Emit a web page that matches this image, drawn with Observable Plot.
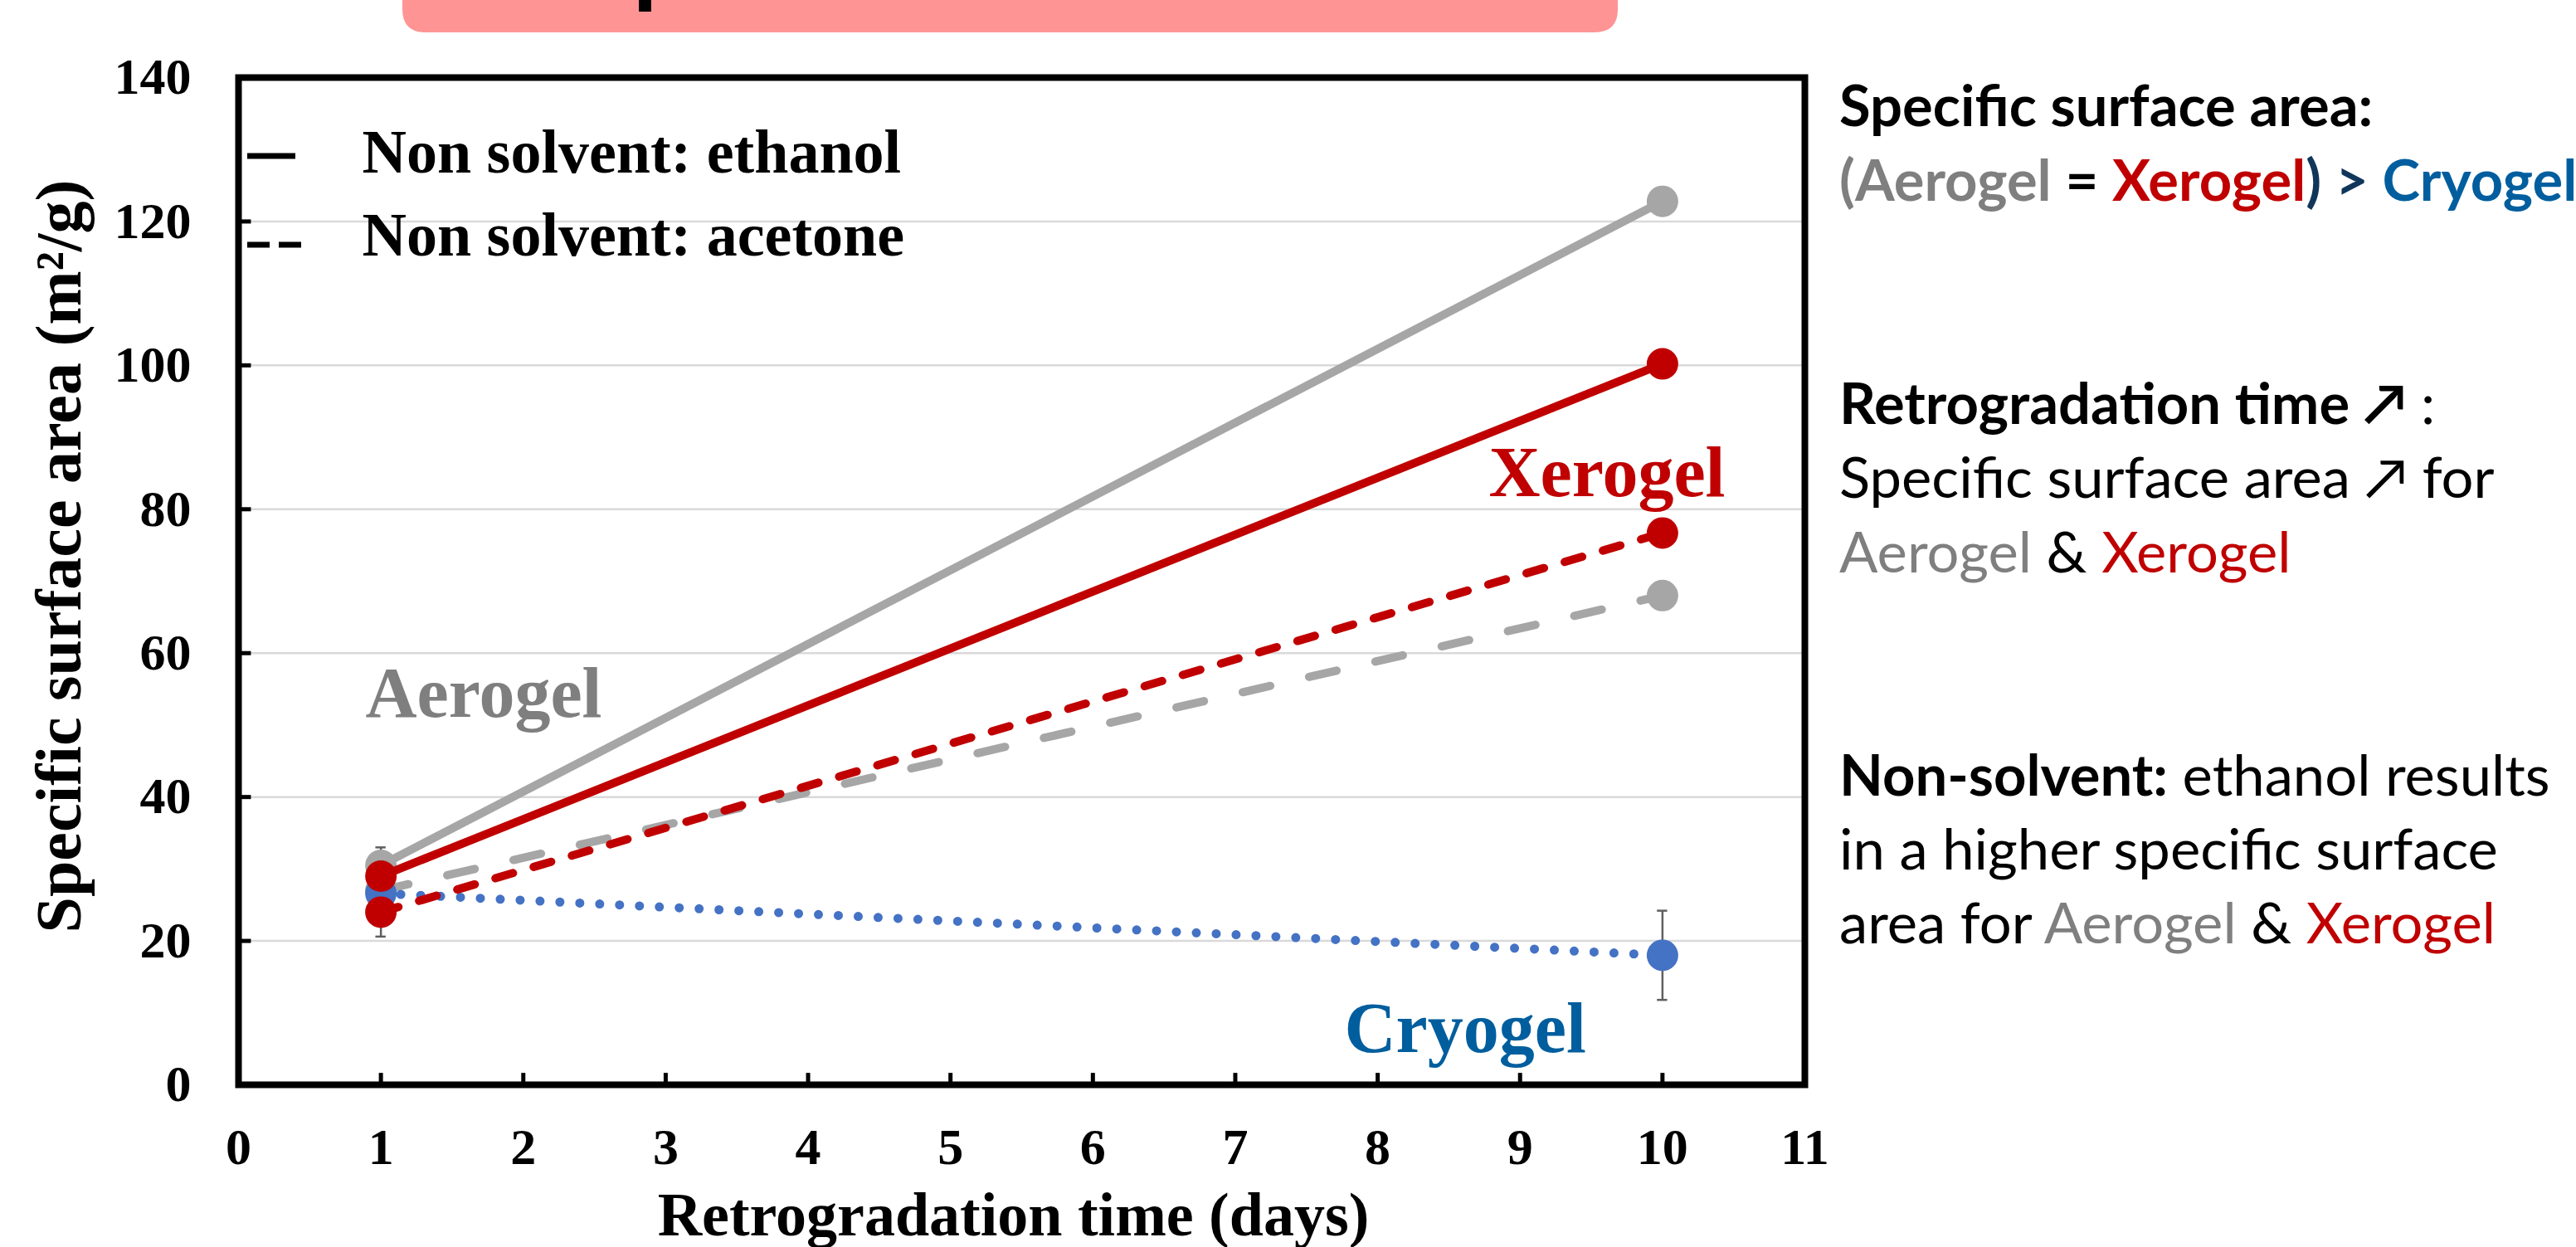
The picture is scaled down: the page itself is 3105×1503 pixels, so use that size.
<!DOCTYPE html>
<html><head><meta charset="utf-8">
<script src="https://cdn.jsdelivr.net/npm/d3@7"></script>
<script src="https://cdn.jsdelivr.net/npm/@observablehq/plot@0.6"></script>
<style>
html,body{margin:0;padding:0;background:#fff;}
#chart{position:relative;width:3105px;height:1503px;overflow:hidden;}
</style></head><body><div id="chart"></div>
<script>
// ---- data ----
const days = [1, 10];
const aerogelEthanol = [30.5, 122.8];
const aerogelAcetone = [27.0, 68.0];
const cryogelValues  = [26.6, 18.0];
const xerogelEthanol = [29.0, 100.2];
const xerogelAcetone = [24.0, 76.7];
const aerogelEthanolErr = [2.5, 1.0];
const aerogelAcetoneErr = [1.5, 1.0];
const cryogelErr        = [1.5, 6.2];
const xerogelEthanolErr = [1.5, 1.0];
const xerogelAcetoneErr = [3.4, 1.0];
const xTicks = [0, 1, 2, 3, 4, 5, 6, 7, 8, 9, 10, 11];
const yTicks = [0, 20, 40, 60, 80, 100, 120, 140];
const legendLabels = ["Non solvent: ethanol", "Non solvent: acetone"];
const gelLabels = ["Aerogel", "Xerogel", "Cryogel"];
const xTitle = "Retrogradation time (days)";
const yTitle = "Specific surface area (m\u00B2/g)";
const headline = "Specific surface area";

// ---- styles ----
const GRAY = "#A6A6A6", RED = "#C00000", BLUE = "#4472C4";
const specs = [
  {name: "Aerogel ethanol", values: aerogelEthanol, err: aerogelEthanolErr, color: GRAY, dash: null, w: 10},
  {name: "Aerogel acetone", values: aerogelAcetone, err: aerogelAcetoneErr, color: GRAY, dash: "34 48", w: 10},
  {name: "Cryogel", values: cryogelValues, err: cryogelErr, color: BLUE, dash: "0 24", w: 11},
  {name: "Xerogel ethanol", values: xerogelEthanol, err: xerogelEthanolErr, color: RED, dash: null, w: 10},
  {name: "Xerogel acetone", values: xerogelAcetone, err: xerogelAcetoneErr, color: RED, dash: "22 26", w: 10}
];
const rows = specs.flatMap(s => days.map((d, i) => ({series: s.name, day: d, value: s.values[i], err: s.err[i]})));
const caps = rows.flatMap(r => [{day: r.day, y: r.value - r.err}, {day: r.day, y: r.value + r.err}]);

const serif = "'Liberation Serif', 'Times New Roman', serif";
const marks = [
  Plot.ruleY(yTicks.filter(v => v > 0 && v < 140), {stroke: "#D9D9D9", strokeWidth: 2.5}),
  Plot.ruleX(rows, {x: "day", y1: d => d.value - d.err, y2: d => d.value + d.err, stroke: "#5F5F5F", strokeWidth: 2.5}),
  Plot.ruleY(caps, {y: "y", x1: d => d.day - 0.036, x2: d => d.day + 0.036, stroke: "#5F5F5F", strokeWidth: 2.5})
];
for (const s of specs) {
  const data = rows.filter(r => r.series === s.name);
  marks.push(Plot.line(data, {x: "day", y: "value", stroke: s.color, strokeWidth: s.w,
    strokeDasharray: s.dash || undefined, strokeLinecap: "round"}));
  marks.push(Plot.dot(data, {x: "day", y: "value", r: 19, fill: s.color, stroke: "none"}));
}
marks.push(
  Plot.ruleY(yTicks, {x1: 0, x2: 0.09, stroke: "black", strokeWidth: 5}),
  Plot.ruleX(xTicks, {y1: 0, y2: 1.6, stroke: "black", strokeWidth: 5}),
  Plot.text(yTicks, {x: 0, y: d => d, text: d => String(d), textAnchor: "end", lineAnchor: "middle", dx: -57, fontSize: 62, fontWeight: "bold", fill: "black"}),
  Plot.text(xTicks, {x: d => d, y: 0, text: d => String(d), textAnchor: "middle", lineAnchor: "bottom", dy: 95, fontSize: 62, fontWeight: "bold", fill: "black"}),
  Plot.text([xTitle], {frameAnchor: "bottom", text: d => d, textAnchor: "middle", lineAnchor: "bottom", dx: -10, dy: 181, fontSize: 74, fontWeight: "bold", fill: "black"}),
  Plot.text([yTitle], {frameAnchor: "left", text: d => d, rotate: -90, textAnchor: "middle", lineAnchor: "bottom", dx: -191, dy: -30, fontSize: 78, fontWeight: "bold", fill: "black"}),
  Plot.text([legendLabels[0]], {frameAnchor: "top-left", text: d => d, textAnchor: "start", lineAnchor: "bottom", dx: 149, dy: 114, fontSize: 74, fontWeight: "bold", fill: "black"}),
  Plot.text([legendLabels[1]], {frameAnchor: "top-left", text: d => d, textAnchor: "start", lineAnchor: "bottom", dx: 149, dy: 214, fontSize: 74, fontWeight: "bold", fill: "black"}),
  Plot.text([gelLabels[0]], {frameAnchor: "top-left", text: d => d, textAnchor: "start", lineAnchor: "bottom", dx: 153, dy: 770, fontSize: 86, fontWeight: "bold", fill: "#7F7F7F"}),
  Plot.text([gelLabels[1]], {frameAnchor: "top-left", text: d => d, textAnchor: "start", lineAnchor: "bottom", dx: 1507, dy: 504, fontSize: 86, fontWeight: "bold", fill: RED}),
  Plot.text([gelLabels[2]], {frameAnchor: "top-left", text: d => d, textAnchor: "start", lineAnchor: "bottom", dx: 1333, dy: 1174, fontSize: 86, fontWeight: "bold", fill: "#005E9E"}),
  Plot.frame({stroke: "black", strokeWidth: 8})
);

const svg = Plot.plot({
  width: 3105, height: 1503,
  marginLeft: 287, marginRight: 930, marginTop: 93, marginBottom: 196,
  x: {domain: [0, 11], axis: null},
  y: {domain: [0, 140], axis: null},
  style: {fontFamily: serif, fontWeight: "bold", background: "white", overflow: "visible"},
  marks
});
document.getElementById("chart").appendChild(svg);

// ---- legend swatches (decoration) ----
const root = d3.select(svg);
const lg = root.append("g");
lg.append("line").attr("x1", 298).attr("x2", 356).attr("y1", 188).attr("y2", 188)
  .attr("stroke", "black").attr("stroke-width", 7);
lg.append("line").attr("x1", 298).attr("x2", 366).attr("y1", 295).attr("y2", 295)
  .attr("stroke", "black").attr("stroke-width", 7).attr("stroke-dasharray", "27 11");

// ---- headline box (mostly cut off at the top) ----
const sans = "Lato, 'Open Sans', 'DejaVu Sans', sans-serif";
const hg = root.append("g").attr("text-anchor", "start");
hg.append("path").attr("d", "M485,-10 L1950,-10 L1950,11 Q1950,39 1922,39 L513,39 Q485,39 485,11 Z").attr("fill", "#FF9494");
const ht = hg.append("text").attr("font-family", sans).attr("font-weight", 700).attr("font-size", 120)
  .attr("y", -6).attr("fill", "black").text("S");
const sW = ht.node().getComputedTextLength();
ht.text(headline).attr("x", 773 - sW - 9);

// ---- right-hand notes ----
const grayT = "#7F7F7F", navy = "#10365A", blueT = "#005E9E";
const notes = [
  {y: 152, parts: [["Specific surface area:", "#000", 700]]},
  {y: 242, parts: [["(", grayT, 700], ["Aerogel", grayT, 700], [" = ", "#000", 700], ["Xerogel", RED, 700], [")", navy, 700], [" > ", navy, 700], ["Cryogel", blueT, 700]]},
  {y: 511, parts: [["Retrogradation time \u2197", "#000", 700], [" :", "#000", 400]]},
  {y: 600, parts: [["Specific surface area \u2197 for", "#000", 400]]},
  {y: 690, parts: [["Aerogel", grayT, 400], [" & ", "#000", 400], ["Xerogel", RED, 400]]},
  {y: 959, parts: [["Non-solvent:", "#000", 700], [" ethanol results", "#000", 400]]},
  {y: 1048, parts: [["in a higher specific surface", "#000", 400]]},
  {y: 1137, parts: [["area for ", "#000", 400], ["Aerogel", grayT, 400], [" & ", "#000", 400], ["Xerogel", RED, 400]]}
];
function measure(str, weight) {
  const t = root.append("text").attr("font-family", sans).attr("font-weight", weight).attr("font-size", 60)
    .attr("text-anchor", "start").style("white-space", "pre").text(str);
  const w = t.node().getComputedTextLength();
  t.remove();
  return w;
}
const fsR = 60 * 792 / measure("in a higher specific surface", 400);
const fsB = 60 * 645 / measure("Specific surface area:", 700);
const fs = (fsR + fsB) / 2;
const ng = root.append("g").attr("font-family", sans).attr("font-size", fs).attr("text-anchor", "start");
for (const n of notes) {
  const t = ng.append("text").attr("x", 2217).attr("y", n.y).attr("text-anchor", "start").style("white-space", "pre");
  for (const [str, col, wt] of n.parts) t.append("tspan").attr("fill", col).attr("font-weight", wt).text(str);
}
</script>
</body></html>
